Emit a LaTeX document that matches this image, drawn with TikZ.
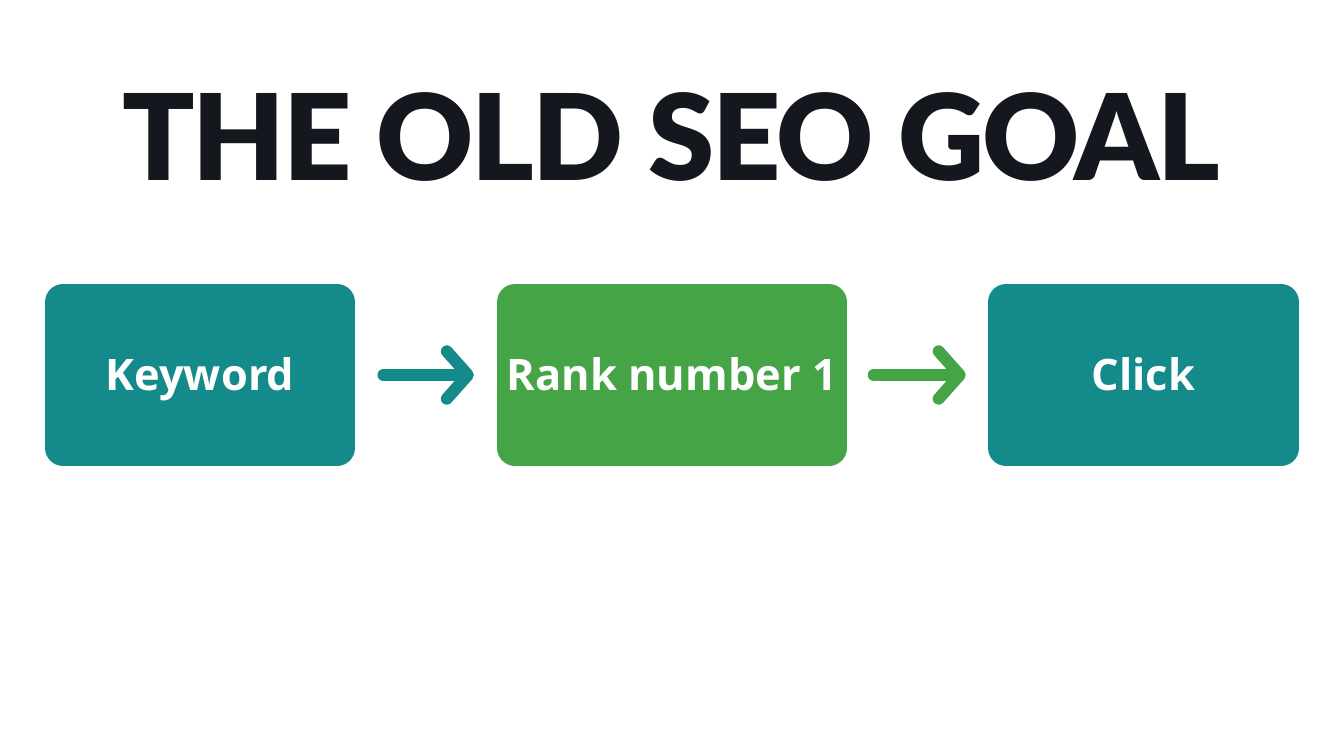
\documentclass[tikz,border=0pt]{standalone}
\usepackage{fontspec}
\setmainfont{Open Sans}
\IfFontExistsTF{Lato Black}
  {\newfontfamily\titlefont[LetterSpace=-2]{Lato Black}}
  {\newfontfamily\titlefont[LetterSpace=-2,FakeBold=2]{Open Sans Bold}}
\newfontfamily\boxfont{Open Sans Bold}
\usetikzlibrary{arrows.meta}

\definecolor{teal}{HTML}{148A8A}
\definecolor{leaf}{HTML}{45A446}
\definecolor{ink}{HTML}{15171F}

\begin{document}
\begin{tikzpicture}
	[x=0.02cm,y=0.02cm,
	stage/.style={rounded corners=0.36cm,minimum height=3.64cm,
		text=white,font=\boxfont\fontsize{24.7}{28}\selectfont,
		text height=17.6pt,text depth=0pt,inner sep=0pt},
	flow/.style={line width=6.8pt,line cap=round,
		-{Straight Barb[round,length=12pt,width=27pt]}}]
	\useasboundingbox (0,0) rectangle (1344,752);
	% title
	\node (title) [anchor=base,text=ink,inner sep=0pt,
		font=\titlefont\fontsize{68}{72}\selectfont] at (671,572) {THE OLD SEO GOAL};
	% the three stages
	\node (kw) [stage,fill=teal,minimum width=6.2cm] at (200,377) {Keyword};
	\node (rank) [stage,fill=leaf,minimum width=7cm] at (672,377) {Rank number 1};
	\node (click) [stage,fill=teal,minimum width=6.22cm] at (1143.5,377) {Click};
	% arrows
	\draw [flow,draw=teal,shorten <=16pt,shorten >=13pt] (kw) -- (rank);
	\draw [flow,draw=leaf,shorten <=15pt,shorten >=12.5pt] (rank) -- (click);
\end{tikzpicture}
\end{document}
